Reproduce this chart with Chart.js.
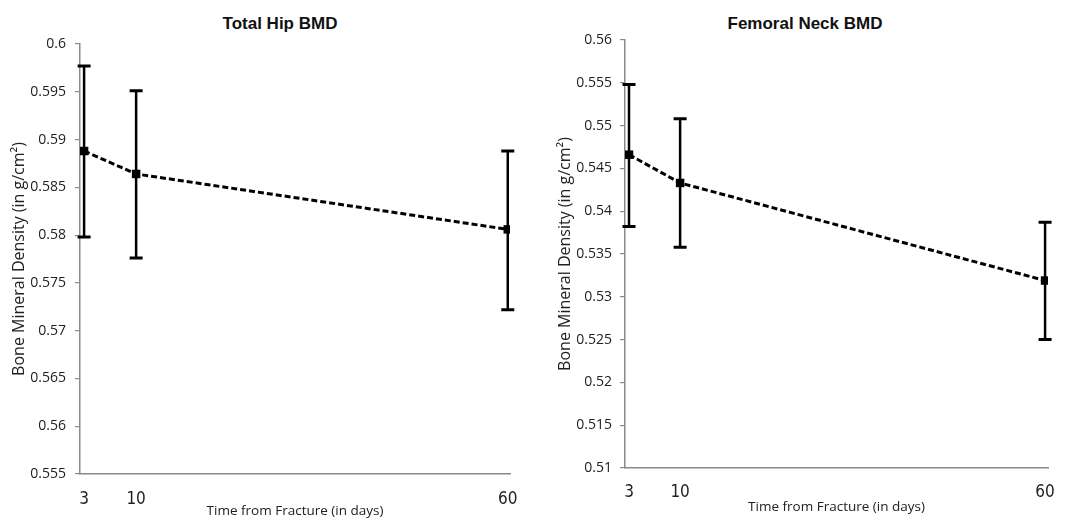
<!DOCTYPE html>
<html>
<head>
<meta charset="utf-8">
<script src="https://cdn.jsdelivr.net/npm/chart.js@4.4.0/dist/chart.umd.min.js"></script>
<style>
  body { margin: 0; background: #fff; width: 1072px; height: 519px; position: relative; overflow: hidden; }
  .box { position: absolute; top: 0; height: 519px; }
  .ttl { position: absolute; top: 14px; transform: translateX(-50%); white-space: nowrap;
         font: bold 17px 'Liberation Sans Narrow', 'Liberation Sans', sans-serif; color: #111; }
</style>
</head>
<body>
<div class="ttl" style="left:280px">Total Hip BMD</div>
<div class="ttl" style="left:805px">Femoral Neck BMD</div>
<div class="box" style="left:0;width:530px"><canvas id="hip" width="530" height="519"></canvas></div>
<div class="box" style="left:530px;width:542px"><canvas id="neck" width="542" height="519"></canvas></div>
<script>
// days after fracture
const days = [3, 10, 60];
const xTicks = [3, 10, 60];

// total hip: mean and error bar ends
const hipMean = [0.5888, 0.5864, 0.5806];
const hipLow  = [0.5798, 0.5776, 0.5722];
const hipHigh = [0.5977, 0.5951, 0.5888];

// femoral neck
const neckMean = [0.5466, 0.5433, 0.5319];
const neckLow  = [0.5382, 0.5358, 0.5250];
const neckHigh = [0.5548, 0.5508, 0.5387];

const tickFont = { family: "'Open Sans', sans-serif", size: 14 };
const narrowFont = { family: "'Liberation Sans Narrow', 'DejaVu Sans Condensed', sans-serif", size: 17 };

function errorBars(low, high) {
  return {
    id: 'errorBars',
    beforeDatasetsDraw(chart) {
      const ctx = chart.ctx;
      const x = chart.scales.x, y = chart.scales.y;
      ctx.save();
      ctx.strokeStyle = '#000';
      for (let i = 0; i < days.length; i++) {
        const px = x.getPixelForValue(days[i]);
        const lo = y.getPixelForValue(low[i]);
        const hi = y.getPixelForValue(high[i]);
        ctx.lineWidth = 2.5;
        ctx.beginPath();
        ctx.moveTo(px, lo);
        ctx.lineTo(px, hi);
        ctx.stroke();
        ctx.lineWidth = 3;
        ctx.beginPath();
        ctx.moveTo(px - 6.5, lo); ctx.lineTo(px + 6.5, lo);
        ctx.moveTo(px - 6.5, hi); ctx.lineTo(px + 6.5, hi);
        ctx.stroke();
      }
      ctx.restore();
    }
  };
}

function makeChart(id, mean, low, high, yMin, yMax, s) {
  new Chart(document.getElementById(id), {
    type: 'line',
    data: {
      datasets: [{
        data: days.map((d, i) => ({ x: d, y: mean[i] })),
        borderColor: '#000',
        borderWidth: 3,
        borderDash: [6, 3],
        pointStyle: 'rect',
        pointRadius: 6,
        pointBackgroundColor: '#000',
        pointBorderWidth: 0,
        tension: 0
      }]
    },
    options: {
      responsive: false,
      animation: false,
      devicePixelRatio: 1,
      layout: { padding: { left: 0, right: s.padRight, top: s.top, bottom: 0 } },
      plugins: { legend: { display: false }, tooltip: { enabled: false } },
      scales: {
        x: {
          type: 'linear',
          min: 2.45,
          max: s.xMax,
          afterBuildTicks: sc => { sc.ticks = xTicks.map(v => ({ value: v })); },
          afterFit: sc => { sc.height = s.xHeight; },
          grid: { display: false },
          border: { color: '#8a8a8a', width: 1.5 },
          ticks: { font: narrowFont, color: '#222', padding: s.xTickPad, maxRotation: 0, autoSkip: false, callback: v => String(v) },
          title: { display: true, text: 'Time from Fracture (in days)', color: '#222',
                   font: { family: "'Open Sans', sans-serif", size: 13.5 }, padding: { top: 0, bottom: s.xTitlePad } }
        },
        y: {
          min: yMin,
          max: yMax,
          afterFit: sc => { sc.width = s.yWidth; },
          ticks: { stepSize: 0.005, font: tickFont, color: '#222', padding: s.yTickPad, callback: v => String(+v.toFixed(3)) },
          grid: { drawOnChartArea: false, drawTicks: true, tickLength: 5, color: '#8a8a8a', lineWidth: 1.2 },
          border: { color: '#8a8a8a', width: 1.5 },
          title: { display: true, text: 'Bone Mineral Density (in g/cm\u00b2)', color: '#222',
                   font: { family: "'Open Sans', sans-serif", size: 16 }, padding: { top: s.yTitlePad, bottom: 0 } }
        }
      }
    },
    plugins: [errorBars(low, high)]
  });
}

makeChart('hip', hipMean, hipLow, hipHigh, 0.555, 0.6,
  { padRight: 20, top: 44, xHeight: 45, yWidth: 80, xMax: 60.3,
    xTickPad: 7, xTitlePad: 0, yTickPad: 9, yTitlePad: 10 });
makeChart('neck', neckMean, neckLow, neckHigh, 0.51, 0.56,
  { padRight: 24, top: 40, xHeight: 51, yWidth: 95, xMax: 60.4,
    xTickPad: 6, xTitlePad: 4, yTickPad: 8, yTitlePad: 26 });
</script>
</body>
</html>
